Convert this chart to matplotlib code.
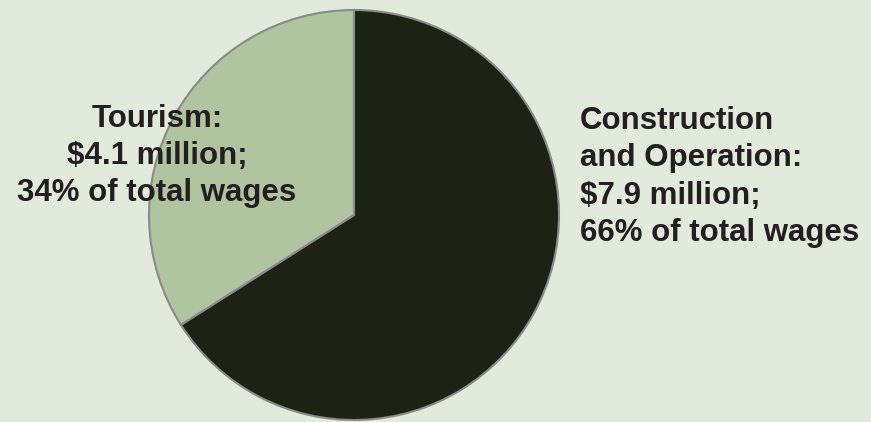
import matplotlib.pyplot as plt

# data
categories = ['Construction and Operation', 'Tourism']
shares = [66, 34]
labels = ['Construction\nand Operation:\n$7.9 million;\n66% of total wages',
          'Tourism:\n$4.1 million;\n34% of total wages']
colors = ['#1e2215', '#b0c59f']

W, H = 871, 422
fig = plt.figure(figsize=(W / 100, H / 100), dpi=100)
fig.patch.set_facecolor('#e2eadb')
ax = fig.add_axes([0, 0, 1, 1])
ax.set_facecolor('#e2eadb')

ax.pie(shares, colors=colors, startangle=90, counterclock=False,
       center=(354, H - 215), radius=205, frame=True,
       wedgeprops=dict(edgecolor='#8a8a8a', linewidth=1.5))
ax.set_xlim(0, W)
ax.set_ylim(0, H)
ax.set_aspect('equal')
ax.axis('off')

txt = dict(fontsize=22.5, fontweight='bold', color='#231f20',
           family='Liberation Sans', linespacing=1.32)
ax.text(580, H - 177, labels[0], ha='left', va='center', **txt)
ax.text(157, H - 156, labels[1], ha='center', va='center', multialignment='center', **txt)

fig.savefig('out.png', dpi=100, facecolor=fig.get_facecolor())
